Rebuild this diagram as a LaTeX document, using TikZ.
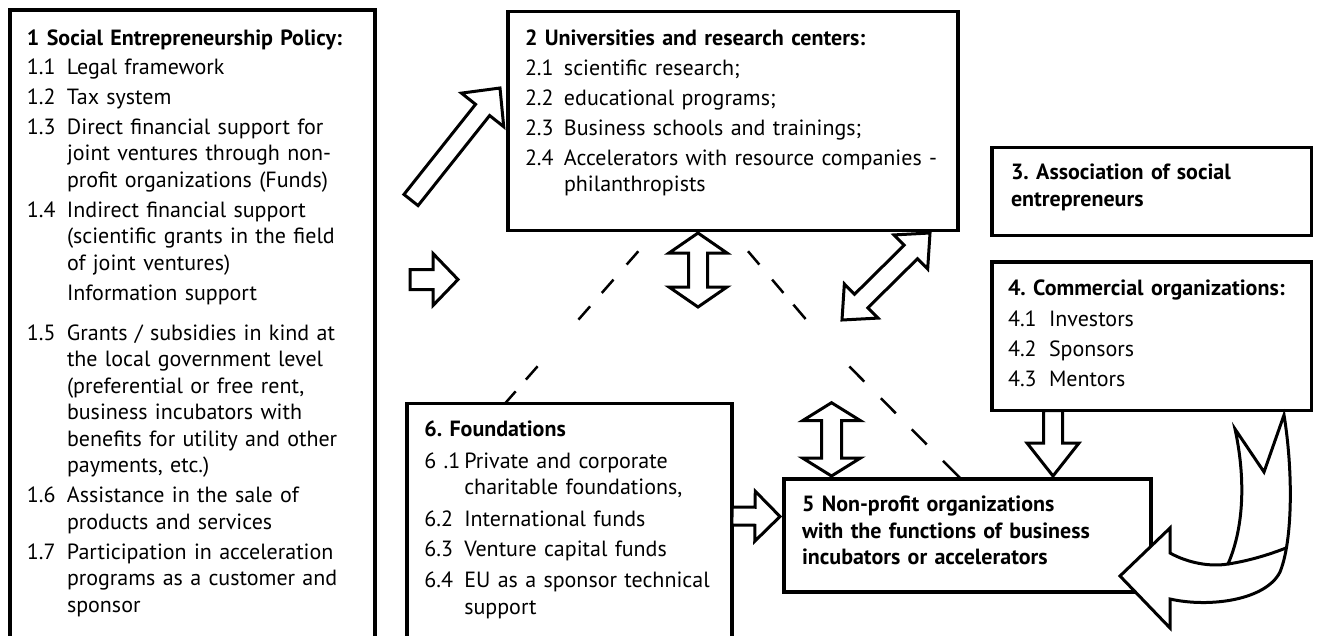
\documentclass[tikz,border=0pt]{standalone}
\usepackage{fontspec}
\setmainfont{PT Sans}
\usepackage{tikz}
\usetikzlibrary{calc}
\frenchspacing
\tikzset{orgbox/.style={draw, line width=3.5pt, rectangle, anchor=north west, align=left,
  inner ysep=0pt, outer sep=0pt, font=\fontsize{22}{26.5}\selectfont\frenchspacing},
%outline of the block arrows
fat/.style={draw, fill=white, line width=3pt, line join=miter},
linkdash/.style={line width=2.5pt}}

% block arrow: tail, tip, half shaft, half head, head length
\newcommand{\blockarrow}[5]{%
  \coordinate (ba-a) at #1;
  \coordinate (ba-b) at #2;
  \coordinate (ba-c) at ($(ba-b)!#5!(ba-a)$);
  \draw[fat] ($(ba-a)!#3!90:(ba-b)$) -- ($(ba-c)!#3!90:(ba-b)$) -- ($(ba-c)!#4!90:(ba-b)$)
    -- (ba-b) -- ($(ba-c)!#4!-90:(ba-b)$) -- ($(ba-c)!#3!-90:(ba-b)$) -- ($(ba-a)!#3!-90:(ba-b)$) -- cycle;}
% double block arrow
\newcommand{\blockdouble}[5]{%
  \coordinate (bd-a) at #1;
  \coordinate (bd-b) at #2;
  \coordinate (bd-c) at ($(bd-a)!#5!(bd-b)$);
  \coordinate (bd-d) at ($(bd-b)!#5!(bd-a)$);
  \draw[fat] (bd-a) -- ($(bd-c)!#4!90:(bd-b)$) -- ($(bd-c)!#3!90:(bd-b)$) -- ($(bd-d)!#3!90:(bd-b)$)
    -- ($(bd-d)!#4!90:(bd-b)$) -- (bd-b) -- ($(bd-d)!#4!-90:(bd-b)$) -- ($(bd-d)!#3!-90:(bd-b)$)
    -- ($(bd-c)!#3!-90:(bd-b)$) -- ($(bd-c)!#4!-90:(bd-b)$) -- cycle;}

\begin{document}
\begin{tikzpicture}[x=1pt,y=-1pt]
\path[use as bounding box, fill=white] (0,0) rectangle (1319,635);

% boxes
\node[orgbox, text width=331pt, inner xsep=17pt, text height=35pt, text depth=615pt] (b1) at (10,10)
{\begin{tabular}[t]{@{}p{40pt}@{}l@{}}
\multicolumn{2}{@{}l@{}}{\bfseries 1 Social Entrepreneurship Policy:}\\[2.5pt]
1.1 & Legal framework\\[3.5pt]
1.2 & Tax system\\[3.5pt]
1.3 & Direct financial support for\\
 & joint ventures through non-\\
 & profit organizations (Funds)\\[3.5pt]
1.4 & Indirect financial support\\
 & (scientific grants in the field\\
 & of joint ventures)\\[3.5pt]
 & Information support\\[13.5pt]
1.5 & Grants / subsidies in kind at\\
 & the local government level\\
 & (preferential or free rent,\\
 & business incubators with\\
 & benefits for utility and other\\
 & payments, etc.)\\[3.5pt]
1.6 & Assistance in the sale of\\
 & products and services\\[3.5pt]
1.7 & Participation in acceleration\\
 & programs as a customer and\\
 & sponsor
\end{tabular}};

\node[orgbox, text width=416pt, inner xsep=17pt, text height=33.5pt, text depth=185.5pt] (b2) at (508,11.5)
{\begin{tabular}[t]{@{}p{39pt}@{}l@{}}
\multicolumn{2}{@{}l@{}}{\bfseries 2 Universities and research centers:}\\[3.5pt]
2.1 & scientific research;\\[3.5pt]
2.2 & educational programs;\\[3.5pt]
2.3 & Business schools and trainings;\\[3.5pt]
2.4 & Accelerators with resource companies -\\
 & philanthropists
\end{tabular}};

\node[orgbox, text width=281.5pt, inner xsep=19pt, text height=31.8pt, text depth=56.2pt] (b3) at (992,147.5)
{\bfseries 3. Association of social\\[1pt] entrepreneurs};

\node[orgbox, text width=287.5pt, inner xsep=16pt, text height=33pt, text depth=115.5pt] (b4) at (992,262)
{\begin{tabular}[t]{@{}p{41pt}@{}l@{}}
\multicolumn{2}{@{}l@{}}{\bfseries 4. Commercial organizations:}\\[4.5pt]
4.1 & Investors\\[3.5pt]
4.2 & Sponsors\\[3.5pt]
4.3 & Mentors
\end{tabular}};

\node[orgbox, text width=331pt, inner xsep=18pt, text height=32.7pt, text depth=80.3pt] (b5) at (784,479)
{\bfseries 5 Non-profit organizations\\ with the functions of business\\ incubators or accelerators};

\node[orgbox, text width=290.4pt, inner xsep=17.3pt, text height=33.2pt, text depth=223.3pt] (b6) at (407,403.5)
{\begin{tabular}[t]{@{}p{40pt}@{}l@{}}
\multicolumn{2}{@{}l@{}}{\bfseries 6. Foundations}\\[5pt]
6 .1 & Private and corporate\\
 & charitable foundations,\\[5pt]
6.2 & International funds\\[3.5pt]
6.3 & Venture capital funds\\[5pt]
6.4 & EU as a sponsor technical\\
 & support
\end{tabular}};

% dashed links
\coordinate (bend) at (826,343);
\draw[linkdash, dash pattern=on 0pt off 27.6pt on 17.7pt off 20pt on 17.7pt off 17.8pt on 17.7pt off 62pt on 17.7pt off 15.6pt on 30pt]
  ($(b2.south west)+(148.5,0)$) -- ($(b6.north west)+(98,0)$);
\draw[linkdash, dash pattern=on 0pt off 27.2pt on 17.5pt off 19.7pt on 17.5pt off 15.4pt on 18.8pt off 64.7pt on 21.2pt off 23.5pt on 21.2pt off 22.6pt on 21.2pt off 23.2pt on 30pt]
  ($(b2.south west)+(222.4,0)$) -- (bend) -- ($(b5.north west)+(177,0)$);

% block arrows
\coordinate (a1) at (411,200);
\blockarrow{(a1)}{($(b2.north west)+(-8,76.5)$)}{9pt}{27pt}{28pt}
\coordinate (a2s) at (410,279.5);
\coordinate (a2e) at (458,279.5);
\blockarrow{(a2s)}{(a2e)}{10pt}{26pt}{25pt}
\coordinate (a3) at (698,307);
\blockdouble{($(b2.south west)+(190,2.5)$)}{(a3)}{9.5pt}{29pt}{20pt}
\coordinate (a4) at (842,320);
\blockdouble{($(b2.south west)+(422,2.5)$)}{(a4)}{9.5pt}{24pt}{27pt}
\coordinate (a5) at (831.5,402.7);
\blockdouble{(a5)}{($(b5.north west)+(47.5,-3)$)}{10pt}{29pt}{18pt}
\blockarrow{($(b4.south west)+(61,0)$)}{($(b5.north west)+(269,-3)$)}{9.5pt}{26pt}{33pt}
\blockarrow{($(b6.north east)+(0,112.5)$)}{($(b5.north west)+(-4,37.5)$)}{9pt}{25pt}{25pt}

% curved arrow from 4 to 5
\draw[fat] (1235,429) -- (1264,472) -- (1284,415)
  .. controls (1293,470) and (1293,540) .. (1280,572)
  .. controls (1266,600) and (1210,608) .. (1170,599)
  -- (1170,628) -- (1120,576) -- (1170,528) -- (1170,553)
  .. controls (1188,563) and (1210,567) .. (1228,564)
  .. controls (1245,525) and (1245,475) .. (1235,429) -- cycle;
\draw[line width=3pt] (1228,564) .. controls (1248,561) and (1268,555) .. (1286,548);

\end{tikzpicture}
\end{document}
